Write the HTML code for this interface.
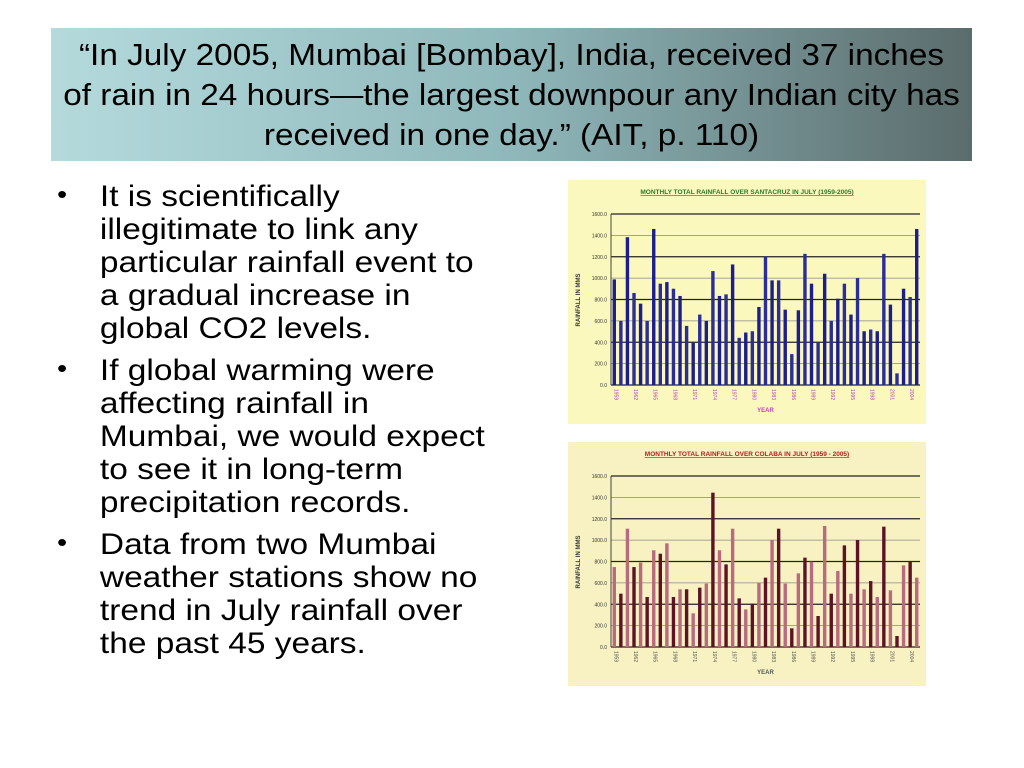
<!DOCTYPE html>
<html><head><meta charset="utf-8">
<style>
body{margin:0;width:1024px;height:768px;background:#fff;position:relative;overflow:hidden;font-family:"Liberation Sans",sans-serif;}
#hdr{position:absolute;left:51px;top:28px;width:921px;height:133px;background:linear-gradient(to right,#b4dadc,#8fb8bb 50%,#5b6c6c);}
#hdr div{position:absolute;left:0;width:921px;text-align:center;font-size:31px;color:#000;line-height:40px;top:7px;white-space:nowrap;transform:scaleX(1.075);transform-origin:center;}
ul{position:absolute;left:57px;top:180px;margin:0;padding:0;list-style:none;width:480px;transform:scaleX(1.115);transform-origin:0 0;}
li{position:relative;padding-left:38.5px;font-size:30px;line-height:33px;color:#000;margin-bottom:9px;white-space:nowrap;}
li:before{content:"•";position:absolute;left:0;top:-2px;font-size:26px;}
svg{position:absolute;}
</style></head><body>
<div id="hdr"><div>“In July 2005, Mumbai [Bombay], India, received 37 inches<br>of rain in 24 hours—the largest downpour any Indian city has<br>received in one day.” (AIT, p. 110)</div></div>
<ul>
<li>It is scientifically<br>illegitimate to link any<br>particular rainfall event to<br>a gradual increase in<br>global CO2 levels.</li>
<li>If global warming were<br>affecting rainfall in<br>Mumbai, we would expect<br>to see it in long-term<br>precipitation records.</li>
<li>Data from two Mumbai<br>weather stations show no<br>trend in July rainfall over<br>the past 45 years.</li>
</ul>
<svg id="c1" style="left:568px;top:180px" width="358" height="244"></svg>
<svg id="c2" style="left:568px;top:442px" width="358" height="244"></svg>
<script>
const santacruzValues=[988,600,1383,861,761,600,1460,948,963,901,833,553,395,659,600,1066,833,848,1128,441,491,503,730,1202,979,979,705,289,699,1227,948,395,1041,600,808,948,659,1000,503,519,503,1227,752,109,901,823,1460];
const colabaValues=[748,499,1107,748,789,468,905,873,970,468,540,540,315,555,593,1444,905,773,1107,455,352,405,602,649,1001,1107,593,175,689,836,798,290,1132,499,711,951,499,1001,540,617,468,1126,530,103,764,798,649];
const yTicks=[0,200,400,600,800,1000,1200,1400,1600];
const yearLabels=['1959','1962','1965','1968','1971','1974','1977','1980','1983','1986','1989','1992','1995','1998','2001','2004'];
const NS='http://www.w3.org/2000/svg';
function mk(p,t,a){const e=document.createElementNS(NS,t);for(const k in a)e.setAttribute(k,a[k]);p.appendChild(e);return e;}
function draw(id,vals,bg,title,tcol,c1,c2,lblCol){
 const s=document.getElementById(id);
 const X0=43,X1=352,Y0=205,Y1=34,max=1600;
 const y=v=>Y0-(v/max)*(Y0-Y1);
 const step=(X1-X0)/vals.length;
 const x=i=>X0+step*(i+0.5);
 const r=mk(s,'rect',{x:0,y:0,width:358,height:244,fill:bg});
 
 
 const t=mk(s,'text',{x:179,y:14,'text-anchor':'middle','font-size':6.5,'font-weight':'bold',fill:tcol,'text-decoration':'underline'});
 t.textContent=title;
 
 
 yTicks.forEach(v=>{
  const g=mk(s,'line',{x1:X0,x2:X1,y1:y(v),y2:y(v),stroke:v%400==0?'#222':'#888','stroke-width':v%400==0?1.3:0.8});
  
  
  const l=mk(s,'text',{x:X0-4,y:y(v)+2,'text-anchor':'end','font-size':5,fill:'#333'});
  l.textContent=v.toFixed(1);
  
  
 });
 mk(s,'line',{x1:X0,x2:X0,y1:Y1,y2:Y0,stroke:'#444','stroke-width':1});
 vals.forEach((v,i)=>{
  const b=mk(s,'rect',{x:x(i)-1.7,y:y(v),width:3.4,height:Y0-y(v),fill:i%2?c2:c1});
  
  
 });
 yearLabels.forEach((yl,j)=>{
  const xi=x(j*3);
  const l=mk(s,'text',{x:xi,y:Y0+4,'font-size':5,fill:lblCol,transform:`rotate(90 ${xi} ${Y0+4})`});
  l.textContent=yl;
  
  
 });
 const xt=mk(s,'text',{x:(X0+X1)/2,y:232,'text-anchor':'middle','font-size':6,fill:lblCol,'font-weight':'bold'});
 xt.textContent='YEAR';
 
 
 const yt=mk(s,'text',{x:12,y:120,'text-anchor':'middle','font-size':6,'font-weight':'bold',fill:'#333',transform:'rotate(-90 12 120)'});
 yt.textContent='RAINFALL IN MMS';
 
 
}
draw('c1',santacruzValues,'#fbf8bd','MONTHLY TOTAL RAINFALL OVER SANTACRUZ IN JULY (1959-2005)','#2a7a2a','#1c1f8a','#2a2e96','#c040c0');
draw('c2',colabaValues,'#f8f2c2','MONTHLY TOTAL RAINFALL OVER COLABA IN JULY (1959 - 2005)','#b02020','#b86a7e','#5e1226','#555');
</script>
</body></html>
